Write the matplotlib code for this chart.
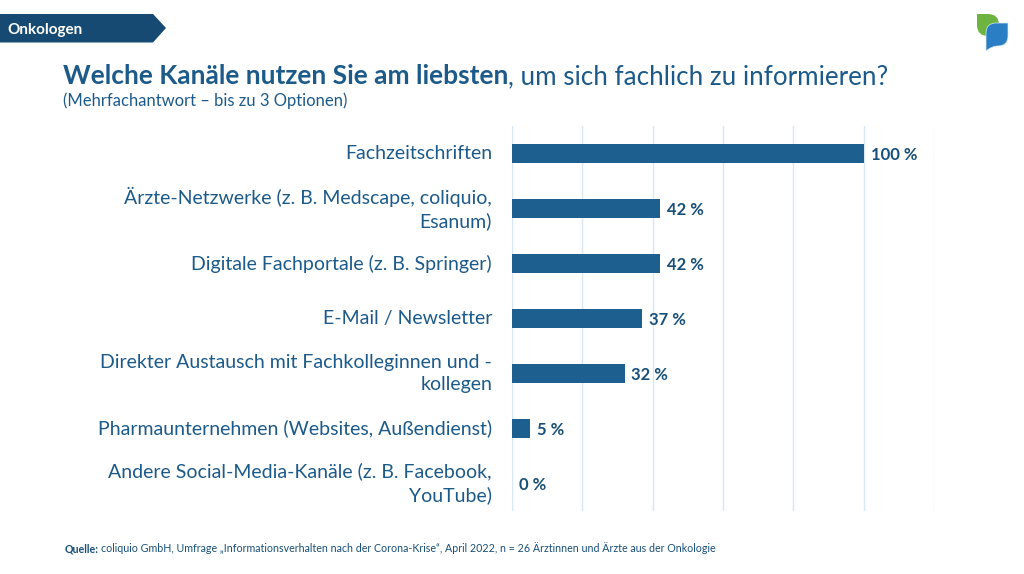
#!/usr/bin/env python3

"""
Bar chart of preferred information channels, oncologists.
"""

import matplotlib
matplotlib.use("Agg")
import matplotlib.pyplot as plt
from matplotlib.patches import Polygon, PathPatch
from matplotlib.path import Path

categories = [
    "Fachzeitschriften",
    "Ärzte-Netzwerke (z. B. Medscape, coliquio,\nEsanum)",
    "Digitale Fachportale (z. B. Springer)",
    "E-Mail / Newsletter",
    "Direkter Austausch mit Fachkolleginnen und -\nkollegen",
    "Pharmaunternehmen (Websites, Außendienst)",
    "Andere Social-Media-Kanäle (z. B. Facebook,\nYouTube)",
]
values = [100, 42, 42, 37, 32, 5, 0]
grid_ticks = [0, 20, 40, 60, 80, 100, 120]

W, H = 1024, 574
BAR = "#1d6090"
TEXT = "#1c5a8a"
DARK = "#174f78"
FONT = "Lato"

plt.rcParams["font.family"] = [FONT, "DejaVu Sans"]

fig = plt.figure(figsize=(W / 100, H / 100), dpi=100, facecolor="white")
renderer = fig.canvas.get_renderer()

# overlay in pixel coordinates for the header parts
bg = fig.add_axes([0, 0, 1, 1])
bg.set_xlim(0, W)
bg.set_ylim(H, 0)
bg.axis("off")

bg.add_patch(Polygon([(0, 14), (153, 14), (166, 28), (153, 42.5), (0, 42.5)], color="#174a72", lw=0))
bg.text(7.5, 34, "Onkologen", color="white", fontsize=11, fontweight="bold", va="baseline")

# logo
leaf = Path([(977, 14), (988, 14), (999, 14), (999, 25), (999, 36), (988, 36), (977, 36), (977, 25), (977, 14)],
            [Path.MOVETO, Path.LINETO, Path.CURVE3, Path.CURVE3, Path.CURVE3, Path.CURVE3, Path.CURVE3, Path.CURVE3, Path.CLOSEPOLY])
bg.add_patch(PathPatch(leaf, facecolor="#6cb33f", lw=0))
drop = Path([(1008, 23), (996, 23), (986, 23), (986, 33), (986, 51), (992, 46), (998, 46), (1008, 46), (1008, 36), (1008, 23)],
            [Path.MOVETO, Path.LINETO, Path.CURVE3, Path.CURVE3, Path.LINETO, Path.CURVE3, Path.CURVE3, Path.CURVE3, Path.CURVE3, Path.CLOSEPOLY])
bg.add_patch(PathPatch(drop, facecolor="#2a7fc4", edgecolor="#dcebf7", lw=0.5))

title = bg.text(63, 84, "Welche Kanäle nutzen Sie am liebsten", color=TEXT, fontsize=19, fontweight="bold", va="baseline")
bg.text(title.get_window_extent(renderer).x1, 84, ", um sich fachlich zu informieren?", color=TEXT, fontsize=18.7, va="baseline")
bg.text(63, 106, "(Mehrfachantwort – bis zu 3 Optionen)", color=TEXT, fontsize=12, va="baseline")

source = bg.text(65, 552, "Quelle:", color=DARK, fontsize=7.7, fontweight="bold", va="baseline")
bg.text(source.get_window_extent(renderer).x1 + 2, 552,
        "coliquio GmbH, Umfrage „Informationsverhalten nach der Corona-Krise“, April 2022, n = 26 Ärztinnen und Ärzte aus der Onkologie",
        color=DARK, fontsize=7.7, va="baseline")

# chart area: 512..934 px wide, 126..511 px high
ax = fig.add_axes([512 / W, 1 - 511 / H, (934 - 512) / W, (511 - 126) / H])
ax.patch.set_alpha(0)
ypos = list(range(len(categories)))
ax.barh(ypos, values, height=0.35, color=BAR, zorder=3)
ax.set_xlim(0, 120)
ax.set_ylim(len(categories) - 0.5, -0.5)
ax.set_xticks(grid_ticks)
ax.set_xticklabels([])
ax.set_yticks(ypos)
ax.set_yticklabels(categories, fontsize=14, color=TEXT, ma="right", va="center", linespacing=1.4)
ax.tick_params(length=0, pad=14.4)
ax.grid(axis="x", color="#d8e7f4", lw=1, zorder=0)
for s in ax.spines.values():
    s.set_visible(False)

for y, v in zip(ypos, values):
    ax.annotate(f"{v} %", xy=(v, y), xytext=(5, -1.2), textcoords="offset points", color=DARK,
                fontsize=12, fontweight="bold", va="center")

fig.savefig("out.png", dpi=100)
